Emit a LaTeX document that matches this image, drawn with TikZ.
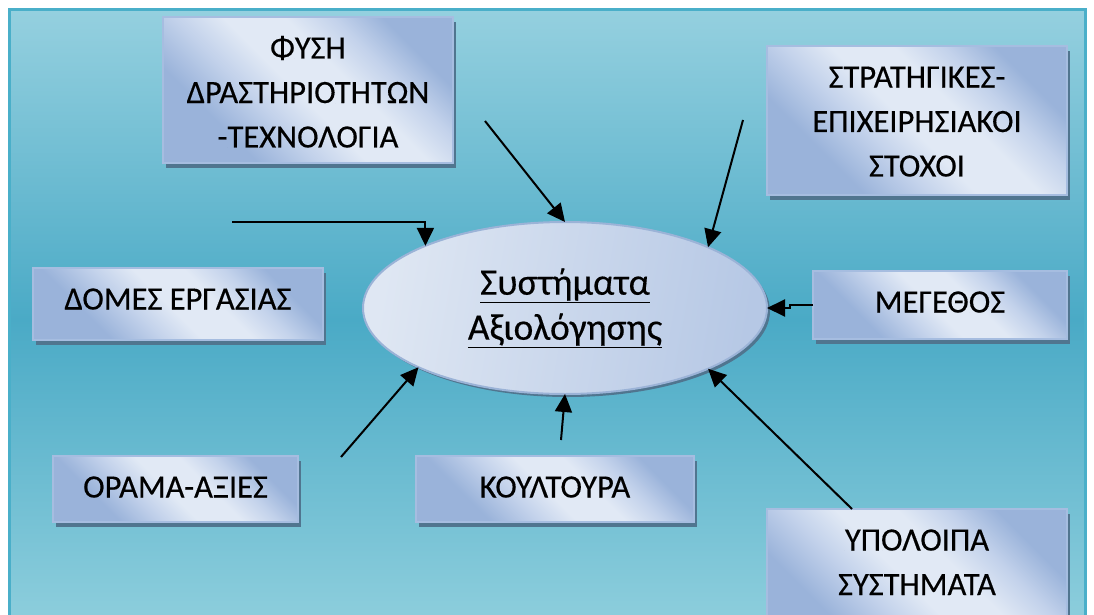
\documentclass[tikz,border=0pt]{standalone}
\usepackage{fontspec}
\setmainfont[FakeBold=0.35]{Carlito}
\usetikzlibrary{arrows.meta,shadows,shapes.geometric}

\definecolor{bgtop}{HTML}{95D0DF}
\definecolor{bgmid}{HTML}{4AAAC6}
\definecolor{bgbot}{HTML}{8FCFDD}
\definecolor{framecol}{HTML}{4AAFC9}
\definecolor{boxlight}{HTML}{E1E9F5}
\definecolor{boxmid}{HTML}{C3D2EB}
\definecolor{boxdark}{HTML}{9AB3DA}
\definecolor{boxedge}{HTML}{A6BDE0}
\definecolor{shadecol}{HTML}{50758F}
\definecolor{ellight}{HTML}{DFE7F3}
\definecolor{eldark}{HTML}{B6C8E5}
\definecolor{elledge}{HTML}{9BB3D7}

% diagonal light band across each text box
\pgfdeclarehorizontalshading{boxfill}{100bp}{color(0bp)=(boxdark); color(30bp)=(boxdark);
  color(40bp)=(boxmid); color(48bp)=(boxlight); color(58bp)=(boxlight); color(66bp)=(boxmid);
  color(74bp)=(boxdark); color(100bp)=(boxdark)}

% top-aligned, centred text block of a box
\newcommand\boxtext[3]{\parbox[c][#2][t]{#1}{\centering\rule{0pt}{41.5pt}#3}}

\tikzset{
  wbox/.style={rectangle, draw=boxedge, line width=1.5pt, shading=boxfill, shading angle=45,
    inner sep=0pt, outer sep=0pt, font=\fontsize{32.5}{44.5}\selectfont,
    drop shadow={shadow xshift=3pt, shadow yshift=-5pt, fill=shadecol, opacity=1}},
  hub/.style={ellipse, minimum width=404pt, minimum height=172pt, inner sep=0pt, outer sep=0pt,
    draw=elledge, line width=2pt, left color=ellight, right color=eldark, shading angle=80,
    align=center, font=\fontsize{37.5}{45}\selectfont,
    drop shadow={shadow xshift=3pt, shadow yshift=-3pt, fill=shadecol, opacity=1}},
  arr/.style={draw=black, line width=2pt, -{Triangle[length=18pt,width=17pt]}}
}

\begin{document}
\begin{tikzpicture}[x=1pt, y=-1pt]
  \useasboundingbox (0,0) rectangle (1094,615);
  \clip (0,0) rectangle (1094,615);
  \fill[white] (0,0) rectangle (1094,615);

  % framed gradient background
  \draw[framecol, line width=3pt, top color=bgtop, bottom color=bgbot, middle color=bgmid]
    (9.5,9.5) rectangle (1085.5,630);

  % central ellipse
  \node[hub] (ell) at (565,308) {\raisebox{5pt}{\underline{Συστήματα}}\\\raisebox{5pt}{\underline{Αξιολόγησης}}};

  % surrounding factors
  \node[wbox] (fys) at (308,90)
    {\boxtext{290pt}{146pt}{ΦΥΣΗ\\ΔΡΑΣΤΗΡΙΟΤΗΤΩΝ\\-ΤΕΧΝΟΛΟΓΙΑ}};
  \node[wbox] (str) at (917,120.5)
    {\boxtext{300pt}{149pt}{ΣΤΡΑΤΗΓΙΚΕΣ-\\ΕΠΙΧΕΙΡΗΣΙΑΚΟΙ\\ΣΤΟΧΟΙ}};
  \node[wbox] (meg) at (940,305) {\boxtext{254pt}{68pt}{ΜΕΓΕΘΟΣ}};
  \node[wbox] (dom) at (178,304) {\boxtext{290pt}{72pt}{ΔΟΜΕΣ ΕΡΓΑΣΙΑΣ}};
  \node[wbox] (ora) at (175.5,489) {\boxtext{245pt}{66pt}{ΟΡΑΜΑ-ΑΞΙΕΣ}};
  \node[wbox] (kou) at (555,489) {\boxtext{278pt}{66pt}{ΚΟΥΛΤΟΥΡΑ}};
  \node[wbox] (yp) at (917,579) {\boxtext{300pt}{140pt}{ΥΠΟΛΟΙΠΑ\\ΣΥΣΤΗΜΑΤΑ}};

  % free tail ends of the connectors
  \coordinate (fysT) at (485,121);
  \coordinate (strT) at (743,120);
  \coordinate (domT) at (232,222);
  \coordinate (oraT) at (341,457);
  \coordinate (kouT) at (561,440);
  \coordinate (ypT) at ([xshift=85pt]yp.north west);

  % connectors into the ellipse
  \draw[arr] (fysT) -- (ell.north);
  \draw[arr] (strT) -- (ell.23.8);
  \draw[arr] (domT) -| (ell.156.1);
  \draw[arr] (meg.west) -- ++(-23,0) |- (ell.east);
  \draw[arr] (oraT) -- (ell.202.9);
  \draw[arr] (kouT) -- (ell.south);
  \draw[arr] (ypT) -- (ell.337.5);
\end{tikzpicture}
\end{document}
